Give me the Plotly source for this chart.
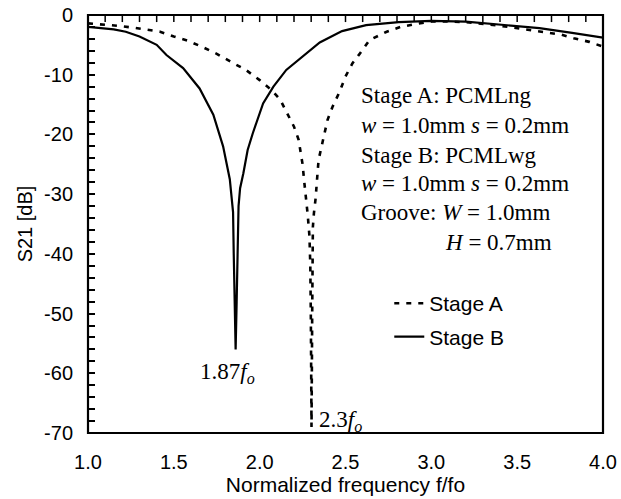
import plotly.graph_objects as go

# Stage A (PCMLng) - dotted
freq_a = [1.00, 1.10, 1.17, 1.26, 1.34, 1.42, 1.50, 1.58, 1.67, 1.75, 1.83, 1.92, 2.00,
          2.07, 2.12, 2.16, 2.20, 2.227, 2.25, 2.26, 2.27, 2.28, 2.29, 2.295, 2.298,
          2.300, 2.302, 2.304, 2.306, 2.307, 2.310, 2.316, 2.326, 2.337, 2.343, 2.36,
          2.378, 2.395, 2.424, 2.465, 2.50, 2.54, 2.58, 2.64, 2.74, 2.82, 2.91, 3.00,
          3.10, 3.20, 3.40, 3.60, 3.67, 3.76, 3.83, 3.92, 4.00]
s21_a = [-1.4, -1.6, -1.8, -2.1, -2.5, -2.8, -3.6, -4.3, -5.4, -6.5, -7.8, -9.2, -10.9,
         -12.6, -14.2, -16.4, -18.7, -20.9, -25.0, -28.0, -30.4, -33.5, -37.0, -42.0, -50.0,
         -60.0, -69.0, -60.0, -50.0, -40.0, -35.5, -33.2, -30.7, -26.5, -24.3, -22.1,
         -19.6, -17.6, -15.4, -12.9, -10.3, -8.1, -6.6, -4.2, -2.8, -2.0, -1.5, -1.1,
         -1.1, -1.2, -1.8, -2.6, -3.0, -3.3, -3.9, -4.5, -5.3]

# Stage B (PCMLwg) - solid
freq_b = [1.00, 1.10, 1.15, 1.22, 1.30, 1.40, 1.457, 1.554, 1.65, 1.73, 1.787, 1.826,
          1.845, 1.849, 1.855, 1.860, 1.866, 1.871, 1.877, 1.886, 1.905, 1.93, 1.96,
          2.02, 2.08, 2.155, 2.25, 2.35, 2.48, 2.62, 2.81, 3.00, 3.20, 3.40, 3.63,
          3.82, 4.00]
s21_b = [-2.0, -2.2, -2.4, -2.8, -3.6, -5.0, -6.7, -8.9, -12.3, -16.7, -22.0, -27.5,
         -33.0, -40.0, -48.0, -56.0, -48.0, -40.0, -32.0, -29.0, -26.5, -22.6, -19.8,
         -14.8, -12.0, -9.2, -6.9, -4.6, -2.7, -1.7, -1.2, -1.0, -1.1, -1.6, -2.2,
         -3.0, -3.8]

series_names = ["Stage A", "Stage B"]
x_ticks = [1.0, 1.5, 2.0, 2.5, 3.0, 3.5, 4.0]
x_tick_text = ["1.0", "1.5", "2.0", "2.5", "3.0", "3.5", "4.0"]
x_top_ticks = [round(1.0 + 0.1 * i, 1) for i in range(31)]
y_ticks = [-2 * i for i in range(36)]
y_tick_text = [str(v) if v % 10 == 0 else "" for v in y_ticks]

info_lines = [
    "Stage A: PCMLng",
    "<i>w</i> = 1.0mm <i>s</i> = 0.2mm",
    "Stage B: PCMLwg",
    "<i>w</i> = 1.0mm <i>s</i> = 0.2mm",
    "Groove: <i>W</i> = 1.0mm",
    "<i>H</i> = 0.7mm",
]
info_x = [2.58, 2.58, 2.58, 2.58, 2.58, 3.07]
info_y = [-13.5, -18.5, -23.6, -28.3, -33.0, -38.1]

SANS = "Liberation Sans, Arial, sans-serif"
SERIF = "Liberation Serif, Times New Roman, serif"

fig = go.Figure()
fig.add_trace(go.Scatter(x=freq_a, y=s21_a, mode="lines", name=series_names[0],
                         legendgroup="a",
                         line=dict(color="black", width=2.6, dash="5px,7px")))
fig.add_trace(go.Scatter(x=freq_b, y=s21_b, mode="lines", name=series_names[1],
                         legendgroup="b",
                         line=dict(color="black", width=2.2)))
# top-edge minor ticks (clipped to the plot area so only the inner half shows)
fig.add_trace(go.Scatter(x=x_top_ticks, y=[-0.01] * len(x_top_ticks), mode="markers",
                         marker=dict(symbol="line-ns", size=10, color="black",
                                     line=dict(width=1.5, color="black")),
                         cliponaxis=True, showlegend=False, hoverinfo="skip"))

annotations = []
for t, x, y in zip(info_lines, info_x, info_y):
    annotations.append(dict(x=x, y=y, xref="x", yref="y", text=t, showarrow=False,
                            xanchor="left", yanchor="middle",
                            font=dict(family=SERIF, size=23, color="black")))
annotations.append(dict(x=1.815, y=-60.0, xref="x", yref="y",
                        text="1.87<i>f<sub>o</sub></i>", showarrow=False,
                        xanchor="center", yanchor="middle",
                        font=dict(family=SERIF, size=23, color="black")))
annotations.append(dict(x=2.335, y=-68.0, xref="x", yref="y",
                        text="2.3<i>f<sub>o</sub></i>", showarrow=False,
                        xanchor="left", yanchor="middle",
                        font=dict(family=SERIF, size=23, color="black")))

fig.update_layout(
    width=621, height=499,
    margin=dict(l=88, r=18, t=15, b=66),
    paper_bgcolor="white", plot_bgcolor="white",
    showlegend=True,
    legend=dict(x=0.585, y=0.27, xanchor="left", yanchor="middle",
                bgcolor="rgba(0,0,0,0)", borderwidth=0,
                font=dict(family=SANS, size=21, color="black"),
                tracegroupgap=3),
    annotations=annotations,
    shapes=[dict(type="rect", xref="paper", yref="paper", x0=0, x1=1, y0=0, y1=1,
                 line=dict(color="black", width=2.2), layer="above")],
    xaxis=dict(range=[1, 4], tickmode="array", tickvals=x_ticks, ticktext=x_tick_text,
               ticks="", showline=False, showgrid=False, zeroline=False,
               ticklabelstandoff=15, automargin=False,
               tickfont=dict(family=SANS, size=20, color="black"),
               title=dict(text="Normalized frequency f/fo", standoff=2,
                          font=dict(family=SANS, size=21, color="black"))),
    yaxis=dict(range=[-70, 0], tickmode="array", tickvals=y_ticks, ticktext=y_tick_text,
               ticks="inside", ticklen=7, tickwidth=1.5, tickcolor="black",
               showline=False, showgrid=False, zeroline=False,
               ticklabelstandoff=14, automargin=False,
               tickfont=dict(family=SANS, size=20, color="black"),
               title=dict(text="S21 [dB]", standoff=6,
                          font=dict(family=SANS, size=20, color="black"))),
)

fig.write_html("out.html")
